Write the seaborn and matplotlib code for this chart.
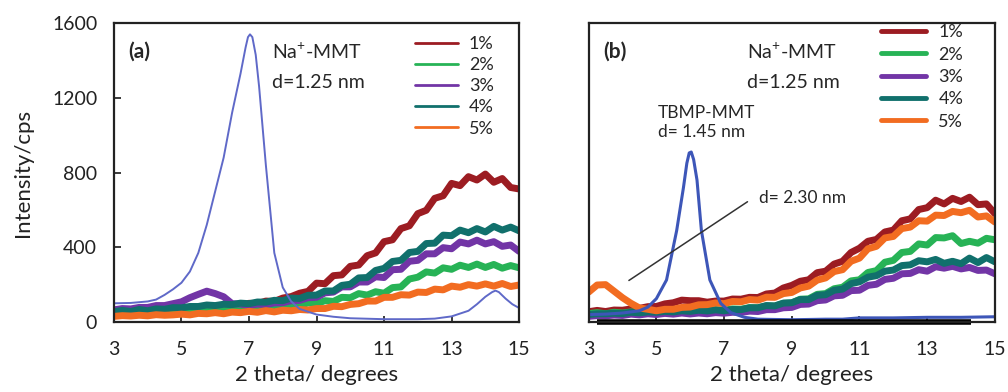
import numpy as np
import pandas as pd
import seaborn as sns
import matplotlib.pyplot as plt

# 2 theta grid for the sample scans (every 0.25 degree)
theta = [3 + 0.25 * i for i in range(49)]

labels = ["1%", "2%", "3%", "4%", "5%"]
colors = ["#9c1c22", "#27b356", "#7235a6", "#11706c", "#f26c21"]

# panel (a) sample scans
a_1 = [60, 52, 64, 56, 67, 58, 70, 62, 74, 68, 80, 72, 84, 78, 90, 88, 100, 98, 112, 110,
       128, 136, 154, 164, 208, 205, 248, 252, 298, 305, 355, 370, 430, 440, 500, 515, 580,
       598, 662, 676, 742, 730, 778, 760, 792, 748, 768, 720, 712]
a_2 = [45, 50, 44, 52, 50, 54, 52, 57, 54, 60, 58, 64, 62, 68, 66, 72, 70, 76, 76, 84,
       82, 92, 88, 102, 98, 114, 110, 132, 130, 152, 144, 162, 154, 184, 188, 230, 240,
       268, 262, 290, 282, 304, 292, 310, 292, 308, 288, 302, 290]
a_3 = [65, 72, 70, 78, 78, 88, 88, 98, 108, 130, 148, 165, 152, 135, 98, 96, 88, 96, 93, 102,
       103, 114, 116, 130, 132, 156, 160, 188, 188, 214, 214, 242, 238, 280, 282, 325, 330,
       365, 365, 398, 392, 428, 418, 438, 418, 430, 405, 412, 378]
a_4 = [55, 62, 56, 67, 60, 70, 68, 77, 76, 83, 83, 91, 88, 95, 93, 101, 98, 107, 106, 116,
       114, 128, 126, 143, 144, 166, 166, 196, 202, 236, 238, 276, 287, 324, 330, 372, 378,
       420, 422, 465, 462, 492, 478, 500, 482, 512, 492, 508, 488]
a_5 = [30, 34, 32, 36, 33, 39, 36, 38, 42, 38, 46, 44, 50, 44, 53, 50, 57, 52, 61, 54,
       63, 60, 67, 64, 72, 72, 84, 82, 94, 98, 112, 112, 132, 132, 146, 144, 160,
       158, 176, 172, 192, 186, 200, 192, 204, 192, 206, 190, 198]

# panel (a) Na+-MMT reference
na_x = [3, 3.5, 4, 4.25, 4.5, 4.75, 5, 5.25, 5.5, 5.75, 6, 6.25, 6.5, 6.75, 6.9, 6.97, 7.03,
        7.1, 7.2, 7.3, 7.5, 7.75, 8, 8.25, 8.5, 9, 9.5, 10, 11, 12, 12.5, 13, 13.5, 13.75,
        14, 14.2, 14.3, 14.4, 14.6, 14.8, 15]
na_y = [100, 102, 110, 120, 145, 175, 210, 270, 370, 520, 700, 880, 1120, 1330, 1470, 1525,
        1540, 1525, 1430, 1260, 840, 370, 185, 110, 70, 40, 28, 20, 15, 15, 18, 30, 60, 95,
        135, 160, 168, 160, 125, 95, 75]

# panel (b) sample scans
b_1 = [55, 62, 56, 64, 63, 70, 73, 82, 83, 97, 103, 117, 114, 114, 106, 112, 112, 123, 122, 132,
       131, 150, 155, 182, 196, 218, 226, 264, 272, 310, 325, 372, 395, 432, 442, 482, 492,
       542, 552, 602, 612, 652, 632, 662, 645, 668, 628, 632, 580]
b_2 = [45, 50, 44, 52, 48, 54, 52, 56, 53, 58, 56, 62, 58, 64, 62, 66, 63, 70, 68, 77,
       76, 86, 85, 100, 102, 122, 124, 148, 152, 178, 186, 220, 226, 265, 275, 320, 330,
       372, 378, 418, 412, 452, 450, 462, 420, 432, 422, 448, 440]
b_3 = [30, 34, 33, 37, 35, 42, 38, 44, 40, 46, 42, 48, 43, 48, 44, 50, 47, 52, 51, 58,
       56, 66, 66, 76, 78, 94, 96, 114, 118, 140, 143, 168, 170, 196, 202, 228, 234,
       258, 260, 280, 272, 296, 288, 298, 284, 292, 276, 278, 258]
b_4 = [40, 44, 44, 47, 45, 52, 49, 54, 52, 57, 54, 60, 57, 63, 59, 65, 60, 67, 66, 76,
       76, 88, 86, 101, 103, 120, 120, 143, 146, 170, 176, 205, 215, 240, 248, 272, 278,
       302, 306, 328, 322, 335, 314, 325, 312, 342, 318, 345, 322]
b_5 = [160, 198, 200, 165, 130, 100, 75, 68, 60, 68, 68, 78, 80, 92, 93, 102, 98, 110, 108, 120,
       117, 133, 132, 152, 158, 182, 192, 224, 236, 270, 280, 325, 342, 392, 405, 450, 458,
       500, 508, 542, 540, 572, 570, 592, 585, 598, 562, 568, 535]

# panel (b) TBMP-MMT
tb_x = [3, 3.5, 4, 4.5, 4.75, 5, 5.3, 5.6, 5.8, 5.9, 5.97, 6.03, 6.1, 6.2, 6.33, 6.58, 6.9,
        7.2, 7.6, 8, 9, 10, 10.5, 11, 12, 13, 14, 15]
tb_y = [40, 42, 48, 60, 80, 125, 225, 490, 720, 850, 905, 910, 870, 760, 490, 225, 100, 50,
        25, 15, 12, 15, 15, 22, 22, 25, 25, 28]

# black baseline bar under panel (b)
base_x = [3.25, 14.3]
base_y = [0, 0]

sns.set_theme(style="ticks")
plt.rcParams["font.family"] = ["Lato", "DejaVu Sans"]

fig = plt.figure(figsize=(10.08, 3.92), dpi=100)
ax1 = fig.add_axes([0.113, 0.1786, 0.402, 0.7624])
ax2 = fig.add_axes([0.584, 0.1786, 0.403, 0.7624])

for ys, lab, col in zip([a_1, a_2, a_3, a_4, a_5], labels, colors):
    sns.lineplot(x=theta, y=ys, ax=ax1, color=col, lw=5, label=lab)
sns.lineplot(x=na_x, y=na_y, ax=ax1, color="#5f69c8", lw=1.4)

for ys, lab, col in zip([b_1, b_2, b_3, b_4, b_5], labels, colors):
    sns.lineplot(x=theta, y=ys, ax=ax2, color=col, lw=5, label=lab)
sns.lineplot(x=tb_x, y=tb_y, ax=ax2, color="#3d56b8", lw=2.2)
ax2.plot(base_x, base_y, color="black", lw=4, solid_capstyle="butt", clip_on=False)

for ax in [ax1, ax2]:
    ax.set_xlim(3, 15)
    ax.set_ylim(0, 1600)
    ax.set_xticks([3, 5, 7, 9, 11, 13, 15])
    ax.tick_params(axis="x", direction="in", length=4, pad=14, labelsize=14, colors="#222222")
    ax.set_xlabel("2 theta/ degrees", fontsize=16, labelpad=5, color="#222222")
    for s in ax.spines.values():
        s.set_linewidth(1.6)
        s.set_color("#222222")

ax1.set_yticks([0, 400, 800, 1200, 1600])
ax1.tick_params(axis="y", direction="in", length=5, pad=12, labelsize=14, colors="#222222")
ax1.set_ylabel("Intensity/cps", fontsize=16, labelpad=14, color="#222222")
ax2.set_yticks([])
ax2.set_ylabel("")

leg1 = ax1.legend(loc="upper right", bbox_to_anchor=(0.955, 0.98), frameon=False, fontsize=13,
                  handlelength=2.4, handletextpad=0.6, labelspacing=0.28, borderaxespad=0)
for h in leg1.get_lines():
    h.set_linewidth(2)
leg2 = ax2.legend(loc="upper right", bbox_to_anchor=(0.94, 1.02), frameon=False, fontsize=13,
                  handlelength=2.5, handletextpad=0.7, labelspacing=0.35, borderaxespad=0)
for h in leg2.get_lines():
    h.set_linewidth(3.5)

ax1.text(0.035, 0.903, "(a)", transform=ax1.transAxes, fontsize=15, fontweight="bold", va="center")
ax2.text(0.035, 0.903, "(b)", transform=ax2.transAxes, fontsize=15, fontweight="bold", va="center")
for ax in [ax1, ax2]:
    ax.text(0.39, 0.903, "Na$^{\\mathregular{+}}$-MMT", transform=ax.transAxes, fontsize=14, va="center")
    ax.text(0.39, 0.803, "d=1.25 nm", transform=ax.transAxes, fontsize=14, va="center")

ax2.text(0.17, 0.70, "TBMP-MMT", transform=ax2.transAxes, fontsize=12.5, va="center")
ax2.text(0.17, 0.635, "d= 1.45 nm", transform=ax2.transAxes, fontsize=12.5, va="center")
ax2.text(0.42, 0.415, "d= 2.30 nm", transform=ax2.transAxes, fontsize=12.5, va="center")
ax2.annotate("", xy=(4.12, 214), xytext=(7.76, 652),
             arrowprops=dict(arrowstyle="-", color="#333333", lw=1.1))

fig.savefig("out.png", dpi=100)
